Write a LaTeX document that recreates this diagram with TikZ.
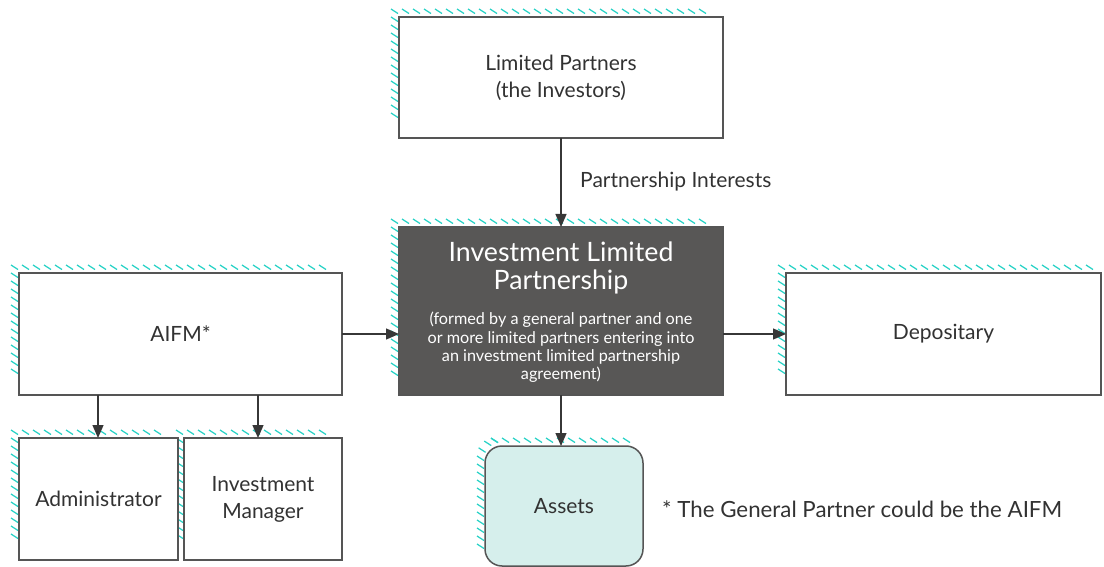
\documentclass[tikz,border=0pt]{standalone}
\usepackage{fontspec}
\setmainfont{Lato}
\usetikzlibrary{arrows.meta,calc}
\definecolor{hatchc}{RGB}{40,210,198}
\definecolor{boxline}{RGB}{85,85,85}
\definecolor{txt}{RGB}{50,50,50}
\definecolor{darkfill}{RGB}{88,87,86}
\definecolor{assetfill}{RGB}{214,239,236}
\definecolor{arrowc}{RGB}{55,55,55}
\tikzset{
  hatchline/.style={draw=hatchc, line width=1.25pt, line cap=butt},
  box/.style={draw=boxline, line width=1.5pt, fill=white, inner sep=0pt, outer sep=0pt,
    text=txt, align=center, font=\fontsize{21}{27}\selectfont},
  darkbox/.style={box, fill=darkfill},
  assetbox/.style={box, fill=assetfill, rounded corners=17pt},
  arr/.style={draw=arrowc, line width=1.3pt, -{Triangle[length=13pt,width=11pt]}},
  lbl/.style={text=txt, inner sep=0pt, font=\fontsize{21}{27}\selectfont},
}
% hatched "shadow" band along top and left of a box at (x1,y1)-(x2,y2)
\newcommand{\hatchtl}[4]{%
  \pgfmathtruncatemacro{\hnx}{(#3-#1-7)/11}%
  \pgfmathtruncatemacro{\hny}{(#4-#2-12)/8}%
  \foreach \k in {0,...,\hnx} \draw[hatchline] ({#1-8+11*\k},{#2-8}) -- ++(7,4.5);
  \foreach \k in {1,...,\hny} \draw[hatchline] ({#1-8},{#2-8+8*\k}) -- ++(7,4.5);
}
\newcommand{\hatchround}[4]{%
  \pgfmathtruncatemacro{\hnx}{(#3-#1-20)/11}%
  \pgfmathtruncatemacro{\hny}{(#4-#2-26)/8}%
  \foreach \k in {0,...,\hnx} \draw[hatchline] ({#1+6+11*\k},{#2-8}) -- ++(7,4.5);
  \foreach \k in {0,...,\hny} \draw[hatchline] ({#1-8},{#2+10+8*\k}) -- ++(7,4.5);
  \foreach \a in {25,55,80} \draw[hatchline] ({#1-8+17-17*cos(\a)},{#2-8+17-17*sin(\a)}) -- ++(7,4.5);
}
\begin{document}
\begin{tikzpicture}[x=1pt,y=-1pt]
\useasboundingbox (0,0) rectangle (1104,567);
% shadows
\hatchtl{399}{17}{723}{138}
\hatchtl{399}{227}{723}{395}
\hatchtl{19}{273}{342}{395}
\hatchtl{786}{273}{1101}{395}
\hatchtl{19}{438}{178}{560}
\hatchtl{184}{438}{342}{560}
\hatchround{485}{446}{643}{566}
% boxes
\node[box, minimum width=324pt, minimum height=121pt] (lp) at (561,77.5) {Limited Partners\\(the Investors)};
\node[darkbox, minimum width=324pt, minimum height=168pt] (ilp) at (561,311) {};
\node[box, minimum width=323pt, minimum height=122pt] (aifm) at (180.5,334) {AIFM*};
\node[box, minimum width=315pt, minimum height=122pt] (dep) at (943.5,334) {Depositary};
\node[box, minimum width=159pt, minimum height=122pt] (adm) at (98.5,499) {Administrator};
\node[box, minimum width=158pt, minimum height=122pt] (im) at (263,499) {Investment\\Manager};
\node[assetbox, minimum width=158pt, minimum height=120pt] (assets) at (564,506) {Assets};
% ILP text
\node[text=white, align=center, inner sep=0pt, font=\fontsize{26.7}{27.5}\selectfont] (ilpt) at (561,268) {Investment Limited\\Partnership};
\node[text=white, align=center, inner sep=0pt, font=\fontsize{16.2}{18.4}\selectfont] (ilps) at (561,347.5) {(formed by a general partner and one\\or more limited partners entering into\\an investment limited partnership\\agreement)};
% labels
\node[lbl, anchor=west] (pi) at (580,182) {Partnership Interests};
\node[lbl, anchor=west, font=\fontsize{22.3}{27}\selectfont] (fn) at (662,509) {* The General Partner could be the AIFM};
% connectors
\coordinate (admtop) at (98,438);
\coordinate (imtop) at (258,438);
\draw[arr] (lp.south) -- (ilp.north);
\draw[arr] (aifm.east) -- (aifm.east -| ilp.west);
\draw[arr] (ilp.east |- dep.west) -- (dep.west);
\draw[arr] (ilp.south) -- (ilp.south |- assets.north);
\draw[arr] (aifm.south -| admtop) -- (admtop);
\draw[arr] (aifm.south -| imtop) -- (imtop);
\end{tikzpicture}
\end{document}
